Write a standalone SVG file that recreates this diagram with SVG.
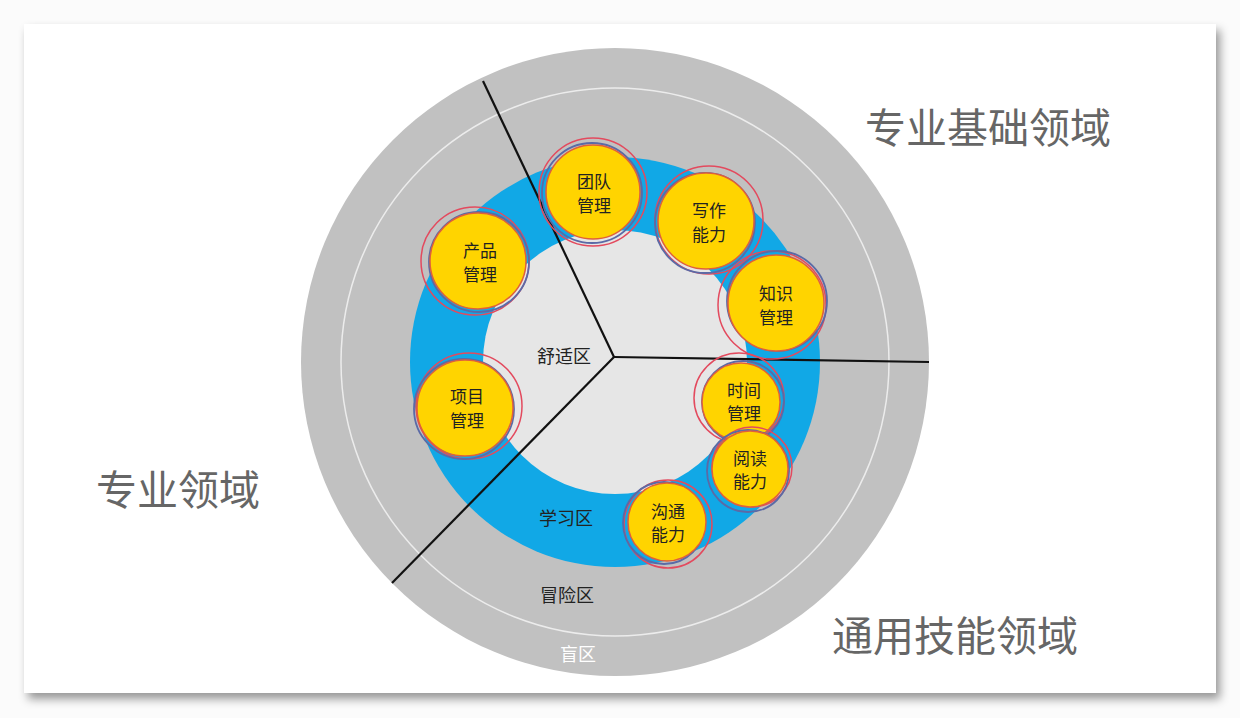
<svg xmlns="http://www.w3.org/2000/svg" width="1240" height="718" viewBox="0 0 1240 718">
<defs>
<filter id="sh" x="-5%" y="-5%" width="110%" height="112%">
<feDropShadow dx="4" dy="6" stdDeviation="5" flood-color="#000" flood-opacity="0.4"/>
</filter>
<style>
.big{font-family:"Noto Sans CJK SC","Noto Sans",sans-serif;font-size:41px;fill:#666;text-anchor:middle}
.zone{font-family:"Noto Sans CJK SC","Noto Sans",sans-serif;font-size:18px;fill:#222;text-anchor:middle}
.lbl{font-family:"Noto Sans CJK SC","Noto Sans",sans-serif;font-size:17px;fill:#222;text-anchor:middle}
.yel{fill:#ffd400;stroke:#e0603a;stroke-width:1.5}
.blu{fill:none;stroke:#5b6aa6;stroke-width:1.8}
.red{fill:none;stroke:#e34a5e;stroke-width:1.5}
.sep{stroke:#111;stroke-width:2.2;fill:none}
</style>
</defs>
<rect width="1240" height="718" fill="#fbfbfb"/>
<rect x="24" y="24" width="1192" height="669" fill="#fff" filter="url(#sh)"/>
<g id="rings">
<circle cx="615" cy="362" r="314" fill="#c1c1c1"/>
<circle cx="615" cy="362" r="274" fill="none" stroke="#ececec" stroke-width="1.5"/>
<circle cx="615" cy="362" r="205" fill="#11a8e6"/>
<circle cx="615" cy="362" r="132" fill="#e6e6e6"/>
</g>
<g id="connectors">
<line class="sep" x1="614" y1="357" x2="483" y2="81"/>
<line class="sep" x1="614" y1="357" x2="929" y2="362"/>
<line class="sep" x1="614" y1="357" x2="392" y2="583"/>
</g>
<g id="zones">
<text class="zone" x="564" y="363">舒适区</text>
<text class="zone" x="566" y="525">学习区</text>
<text class="zone" x="567" y="602">冒险区</text>
<text class="zone" x="578" y="661" style="fill:#fff">盲区</text>
</g>
<g id="domains">
<text class="big" x="988" y="143">专业基础领域</text>
<text class="big" x="178" y="505">专业领域</text>
<text class="big" x="955" y="651">通用技能领域</text>
</g>
<g id="n-team">
<circle class="red" cx="593" cy="192" r="54"/>
<circle class="blu" cx="592" cy="193" r="50"/>
<circle class="yel" cx="593" cy="192" r="47"/>
<text class="lbl" x="594" y="188">团队</text>
<text class="lbl" x="594" y="212">管理</text>
</g>
<g id="n-write">
<circle class="red" cx="709" cy="220" r="54"/>
<circle class="blu" cx="705" cy="223" r="50"/>
<circle class="yel" cx="706" cy="221" r="48"/>
<text class="lbl" x="709" y="217">写作</text>
<text class="lbl" x="709" y="241">能力</text>
</g>
<g id="n-product">
<circle class="red" cx="475" cy="261" r="54"/>
<circle class="blu" cx="479" cy="262" r="50"/>
<circle class="yel" cx="478" cy="261" r="48"/>
<text class="lbl" x="480" y="257">产品</text>
<text class="lbl" x="480" y="281">管理</text>
</g>
<g id="n-knowledge">
<circle class="red" cx="772" cy="305" r="54"/>
<circle class="blu" cx="777" cy="301" r="50"/>
<circle class="yel" cx="776" cy="303" r="48"/>
<text class="lbl" x="776" y="300">知识</text>
<text class="lbl" x="776" y="324">管理</text>
</g>
<g id="n-project">
<circle class="red" cx="469" cy="406" r="53"/>
<circle class="blu" cx="464" cy="409" r="50"/>
<circle class="yel" cx="465" cy="408" r="48"/>
<text class="lbl" x="467" y="403">项目</text>
<text class="lbl" x="467" y="427">管理</text>
</g>
<g id="n-time">
<circle class="red" cx="739" cy="398" r="45"/>
<circle class="blu" cx="743" cy="402" r="41"/>
<circle class="yel" cx="741" cy="402" r="39"/>
<text class="lbl" x="744" y="397">时间</text>
<text class="lbl" x="744" y="420">管理</text>
</g>
<g id="n-read">
<circle class="red" cx="752" cy="467" r="40"/>
<circle class="blu" cx="748" cy="471" r="41"/>
<circle class="yel" cx="750" cy="469" r="38"/>
<text class="lbl" x="750" y="465">阅读</text>
<text class="lbl" x="750" y="488">能力</text>
</g>
<g id="n-comm">
<circle class="red" cx="668" cy="524" r="44"/>
<circle class="blu" cx="664" cy="523" r="41"/>
<circle class="yel" cx="667" cy="522" r="39"/>
<text class="lbl" x="668" y="518">沟通</text>
<text class="lbl" x="668" y="541">能力</text>
</g>
</svg>
